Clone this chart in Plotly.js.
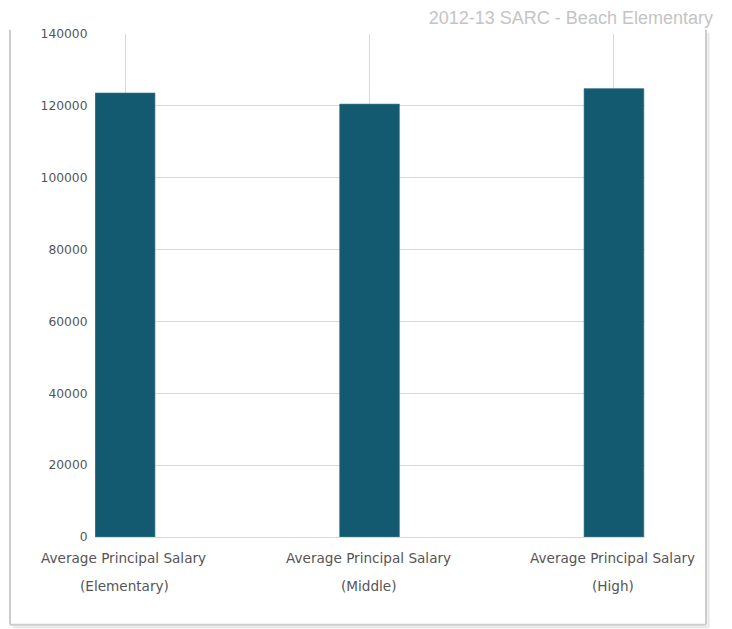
<!DOCTYPE html>
<html><head><meta charset="utf-8">
<script src="https://cdn.plot.ly/plotly-3.0.1.min.js"></script>
<style>html,body{margin:0;padding:0;background:#fff;}#chart{width:732px;height:629px;}</style>
</head><body><div id="chart"></div>
<script>
const chartTitle = "2012-13 SARC - Beach Elementary";
const categories = ["Elementary", "Middle", "High"];
const labelLine1 = ["Average Principal Salary", "Average Principal Salary", "Average Principal Salary"];
const labelLine2 = ["(Elementary)", "(Middle)", "(High)"];
const salaries = [123600, 120500, 124800];
const yTicks = [0, 20000, 40000, 60000, 80000, 100000, 120000, 140000];

const xIdx = categories.map((c, i) => i);
const tickFont = {family: "DejaVu Sans, Verdana, sans-serif", size: 12.3, color: "#555555"};
const catFont = {family: "DejaVu Sans, Verdana, sans-serif", size: 13.6, color: "#555555"};

const annotations = [];
xIdx.forEach(i => {
  annotations.push({x: i, xref: "x", y: 0, yref: "y", yshift: -21, xshift: -1.5, text: labelLine1[i], showarrow: false, font: catFont, xanchor: "center", yanchor: "middle"});
  annotations.push({x: i, xref: "x", y: 0, yref: "y", yshift: -49, xshift: -1, text: labelLine2[i], showarrow: false, font: catFont, xanchor: "center", yanchor: "middle"});
});

const px2x = p => (p - 95) / 550;
const py2y = p => (537.3 - p) / 503;
const frame = "#cccccc", shadow = "#e6e6e6";
const shapes = [
  {type: "line", xref: "paper", yref: "paper", x0: px2x(10), x1: px2x(10), y0: py2y(30), y1: py2y(625), line: {color: frame, width: 2}},
  {type: "line", xref: "paper", yref: "paper", x0: px2x(706), x1: px2x(706), y0: py2y(30), y1: py2y(625), line: {color: frame, width: 2}},
  {type: "line", xref: "paper", yref: "paper", x0: px2x(10), x1: px2x(706), y0: py2y(625), y1: py2y(625), line: {color: frame, width: 2}},
  {type: "line", xref: "paper", yref: "paper", x0: px2x(708.5), x1: px2x(708.5), y0: py2y(33), y1: py2y(627.5), line: {color: shadow, width: 2}},
  {type: "line", xref: "paper", yref: "paper", x0: px2x(13), x1: px2x(708.5), y0: py2y(627.5), y1: py2y(627.5), line: {color: shadow, width: 2}}
];

Plotly.newPlot("chart", [{
  type: "bar",
  x: xIdx,
  y: salaries,
  width: 0.245,
  marker: {color: "#135a70", line: {width: 0.6, color: "#4f8496"}},
  hoverinfo: "y"
}], {
  width: 732, height: 629,
  margin: {l: 95, r: 87, t: 34, b: 92, pad: 0},
  paper_bgcolor: "#ffffff", plot_bgcolor: "#ffffff",
  showlegend: false,
  title: {text: chartTitle, x: 0.974, xanchor: "right", xref: "container", y: 0.972, yanchor: "middle", font: {family: "Liberation Sans, Arial, sans-serif", size: 18, color: "#c4c4c4"}},
  xaxis: {range: [-0.123, 2.127], tickvals: xIdx, showticklabels: false, showgrid: true, gridcolor: "#d9d9d9", gridwidth: 1, zeroline: false, showline: false, fixedrange: true},
  yaxis: {range: [0, 140000], tickvals: yTicks, ticktext: yTicks.map(String), tickfont: tickFont, showgrid: true, gridcolor: "#d9d9d9", gridwidth: 1, zeroline: true, zerolinecolor: "#d9d9d9", zerolinewidth: 1, showline: false, ticks: "outside", ticklen: 4, tickcolor: "rgba(0,0,0,0)", fixedrange: true},
  annotations: annotations,
  shapes: shapes
}, {displayModeBar: false, staticPlot: true});
</script></body></html>
